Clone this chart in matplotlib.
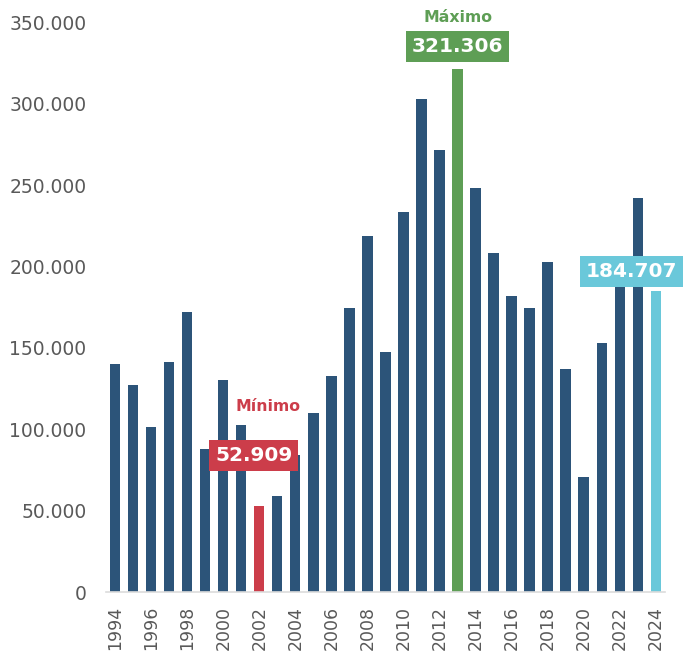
#Bar chart of yearly values 1994-2024 with min / max / last highlighted
import numpy as np
import matplotlib.pyplot as plt
from matplotlib.ticker import FuncFormatter

#Data
years = list(range(1994, 2025))
values = [140400, 127300, 101300, 141600, 171900, 88000, 130200, 102500, 52909, 58700,
          84300, 110000, 132900, 174400, 219000, 147700, 233400, 302800, 271900, 321306,
          248200, 208000, 181900, 174800, 202600, 136900, 70600, 153100, 190000, 241900,
          184707]

#Colours
c_bar = "#2C5479"
c_min = "#CC3D4A"
c_max = "#5E9E55"
c_last = "#6AC8DA"
c_text = "#595959"

i_min = int(np.argmin(values))
i_max = int(np.argmax(values))
colors = [c_bar]*len(values)
colors[i_min] = c_min
colors[i_max] = c_max
colors[-1] = c_last

def fmt(v):
    return f"{v:,.0f}".replace(",", ".")

fig = plt.figure(figsize=(6.83, 6.51), dpi=100)
ax = fig.add_axes([0.155, 0.0906, 0.818, 0.875])

ax.bar(years, values, width=0.56, color=colors, zorder=2)

ax.set_xlim(years[0]-0.53, years[-1]+0.5)
ax.set_ylim(0, 350000)
ax.set_yticks(np.arange(0, 350001, 50000))
ax.yaxis.set_major_formatter(FuncFormatter(lambda v, p: fmt(v)))
ax.set_xticks(years[::2])
ax.tick_params(axis="x", labelrotation=90, labelsize=12.5, colors=c_text, length=0, pad=10)
ax.tick_params(axis="y", labelsize=13.5, colors=c_text, length=0, pad=14)

for s in ["top", "right", "left"]:
    ax.spines[s].set_visible(False)
ax.spines["bottom"].set_color("#DCDCDC")
ax.spines["bottom"].set_linewidth(1.2)

#Annotations
def box(x, y, v, col):
    ax.text(x, y, fmt(v), ha="center", va="center", color="white", fontsize=14.5,
            fontweight="bold", zorder=5, clip_on=False,
            bbox=dict(boxstyle="square,pad=0.3", fc=col, ec="none"))

box(years[i_min]-0.32, 84000, values[i_min], c_min)
ax.text(years[i_min]+0.45, 114000, "Mínimo", ha="center", va="center", color=c_min,
        fontsize=11.3, fontweight="bold")

box(years[i_max], 335000, values[i_max], c_max)
ax.text(years[i_max], 353000, "Máximo", ha="center", va="center", color=c_max,
        fontsize=11.3, fontweight="bold", clip_on=False)

box(years[-1]-1.34, 197000, values[-1], c_last)

fig.savefig("out.png", dpi=100)
